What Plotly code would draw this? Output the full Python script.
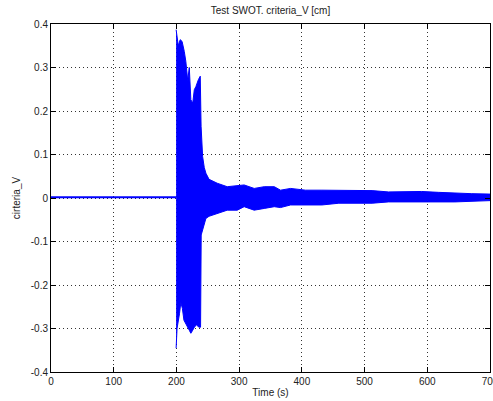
import plotly.graph_objects as go

# Flat (pre-event) signal
flat_t = [0, 199.5]
flat_v = [0.002, 0.002]

# Upper envelope of the oscillating signal
upper_t = [199.5, 201, 203, 206, 209, 212.5, 215, 218, 220.5, 223, 226, 228.5, 231, 235, 238,
           239.3, 241.8, 244.4, 247, 252, 256, 265, 281, 297, 308, 324, 340, 356, 366, 382,
           406, 432, 459, 485, 512, 538, 565, 591, 618, 644, 670, 700]
upper_v = [0.387, 0.37, 0.35, 0.364, 0.36, 0.337, 0.314, 0.27, 0.30, 0.226, 0.218, 0.249, 0.256, 0.272, 0.28,
           0.165, 0.095, 0.07, 0.057, 0.043, 0.04, 0.034, 0.026, 0.028, 0.030, 0.022, 0.026, 0.026, 0.018, 0.022,
           0.018, 0.018, 0.018, 0.018, 0.017, 0.014, 0.015, 0.015, 0.013, 0.011, 0.010, 0.009]

# Lower envelope
lower_t = [199.5, 201, 203, 205, 207, 209.5, 212, 215, 218, 220.5, 223, 226, 228.5, 232, 236, 238.5,
           239.5, 241.8, 244.4, 247, 252, 258, 265, 281, 297, 308, 324, 340, 356, 366, 382,
           406, 432, 459, 485, 512, 538, 591, 644, 700]
lower_v = [-0.345, -0.30, -0.285, -0.265, -0.24, -0.254, -0.281, -0.289, -0.297, -0.304, -0.311, -0.304, -0.297, -0.292, -0.297, -0.297,
           -0.085, -0.074, -0.06, -0.047, -0.042, -0.04, -0.036, -0.028, -0.028, -0.02, -0.028, -0.024, -0.02, -0.022, -0.016,
           -0.016, -0.016, -0.012, -0.012, -0.012, -0.009, -0.009, -0.009, -0.006]

x_ticks = [0, 100, 200, 300, 400, 500, 600, 700]
x_text = ["0", "100", "200", "300", "400", "500", "600", "700"]
y_ticks = [-0.4, -0.3, -0.2, -0.1, 0, 0.1, 0.2, 0.3, 0.4]
y_text = ["-0.4", "-0.3", "-0.2", "-0.1", "0", "0.1", "0.2", "0.3", "0.4"]

BLUE = "rgb(0,0,255)"
FONT = "Liberation Sans, Arial, sans-serif"
TXT = "#222"

fig = go.Figure()
fig.add_trace(go.Scatter(x=flat_t, y=flat_v, mode="lines",
                         line=dict(color=BLUE, width=2), showlegend=False, hoverinfo="skip"))
fig.add_trace(go.Scatter(x=upper_t + lower_t[::-1], y=upper_v + lower_v[::-1],
                         mode="lines", fill="toself", fillcolor=BLUE,
                         line=dict(color=BLUE, width=1), showlegend=False, hoverinfo="skip"))

axis_common = dict(showline=True, linecolor="black", linewidth=1, mirror="ticks",
                   ticks="inside", ticklen=5, tickcolor="black",
                   showgrid=True, gridcolor="#333", griddash="1px,3px", gridwidth=1,
                   zeroline=False, ticklabeloverflow="allow", automargin=False,
                   tickfont=dict(family=FONT, size=10, color=TXT))

fig.update_layout(
    width=493, height=401,
    margin=dict(l=51, r=3, t=24, b=29, autoexpand=False),
    paper_bgcolor="white", plot_bgcolor="white",
    font=dict(family=FONT, size=10, color=TXT),
    title=dict(text="Test SWOT. criteria_V [cm]", x=0.5, xref="paper", y=1, yref="container",
               yanchor="top", pad=dict(t=7), font=dict(family=FONT, size=10, color=TXT)),
    xaxis=dict(range=[0, 700], tickvals=x_ticks, ticktext=x_text,
               title=dict(text="Time (s)", standoff=2, font=dict(family=FONT, size=10, color=TXT)),
               **axis_common),
    yaxis=dict(range=[-0.4, 0.4], tickvals=y_ticks, ticktext=y_text,
               title=dict(text="cirteria_V", standoff=8, font=dict(family=FONT, size=10, color=TXT)),
               **axis_common),
)

fig.write_html("out.html")
